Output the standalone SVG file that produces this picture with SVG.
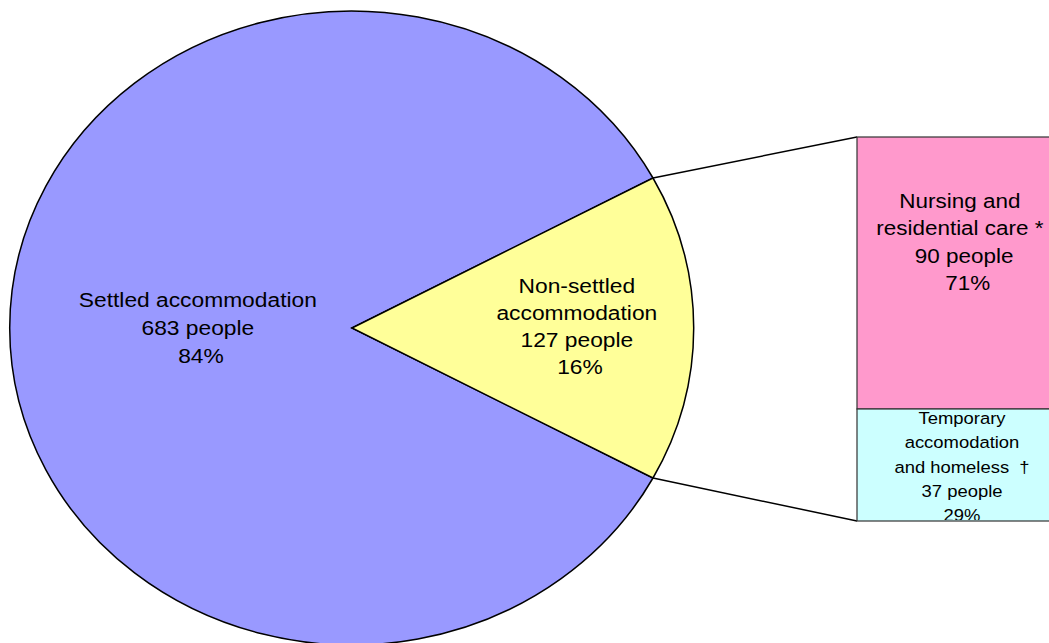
<svg xmlns="http://www.w3.org/2000/svg" width="1049" height="643" viewBox="0 0 1049 643">
<style>
  .lbl { font-family: "Liberation Sans", Arial, sans-serif; fill: #000; text-anchor: middle; }
  .big { font-size: 21px; }
  .small { font-size: 17px; }
  .pie { stroke: #000; stroke-width: 1.5; }
  .box { stroke: #333; stroke-width: 1.2; }
  .conn { stroke: #000; stroke-width: 1.5; fill: none; }
</style>
<defs>
  <clipPath id="cyanClip"><rect x="857" y="409" width="192" height="111"/></clipPath>
</defs>
<rect width="1049" height="643" fill="#fff"/>
<g id="settled">
  <path class="pie" fill="#9999FF" d="M352,328 L653,178 A342,317 0 1 0 653,478 Z"/>
  <text class="lbl big" transform="translate(201,307) scale(1.085,1)">
    <tspan x="0" dy="0">Settled accommodation</tspan>
    <tspan x="0" dy="28">683 people</tspan>
    <tspan x="0" dy="28">84%</tspan>
  </text>
</g>
<g id="non-settled">
  <path class="pie" fill="#FFFF99" d="M352,328 L653,178 A342,317 0 0 1 653,478 Z"/>
  <text class="lbl big" transform="translate(580,293) scale(1.085,1)">
    <tspan x="0" dy="0">Non-settled</tspan>
    <tspan x="0" dy="27">accommodation</tspan>
    <tspan x="0" dy="27">127 people</tspan>
    <tspan x="0" dy="27">16%</tspan>
  </text>
</g>
<g id="connectors">
  <line class="conn" x1="653" y1="178" x2="857" y2="137"/>
  <line class="conn" x1="653" y1="478" x2="857" y2="521"/>
</g>
<g id="nursing">
  <rect class="box" x="857" y="137" width="200" height="272" fill="#FF99CC"/>
  <text class="lbl big" transform="translate(963,208) scale(1.07,1)">
    <tspan x="0" dy="0">Nursing and</tspan>
    <tspan x="0" dy="27.5">residential care *</tspan>
    <tspan x="4" dy="27.5">90 people</tspan>
    <tspan x="4.5" dy="27.5">71%</tspan>
  </text>
</g>
<g id="temporary">
  <rect class="box" x="857" y="409" width="200" height="112" fill="#CCFFFF"/>
  <g clip-path="url(#cyanClip)">
    <text class="lbl small" transform="translate(962,424) scale(1.085,1)" xml:space="preserve"><tspan x="0" dy="0">Temporary</tspan><tspan x="0" dy="24.3">accomodation</tspan><tspan x="0" dy="24.3">and homeless  †</tspan><tspan x="0" dy="24.3">37 people</tspan><tspan x="0" dy="24.3">29%</tspan></text>
  </g>
</g>
</svg>
